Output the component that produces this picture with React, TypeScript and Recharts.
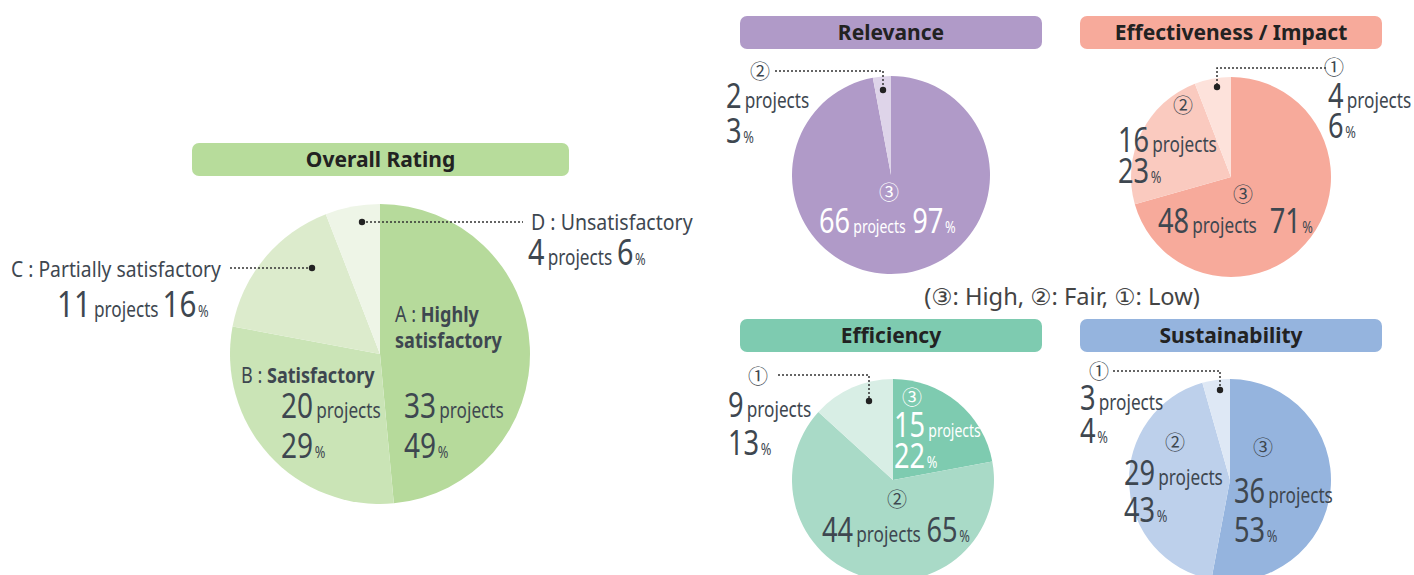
import React from 'react';
import { PieChart, Pie, Cell } from 'recharts';

// Overall rating (A..D)
const overallNames = ['A', 'B', 'C', 'D'];
const overallCounts = [33, 20, 11, 4];
const overallPercents = [49, 29, 16, 6];

// Criteria ratings, ordered clockwise from 12 o'clock
const relevanceNames = ['③', '②'];
const relevanceCounts = [66, 2];
const relevancePercents = [97, 3];

const effectivenessNames = ['③', '②', '①'];
const effectivenessCounts = [48, 16, 4];
const effectivenessPercents = [71, 23, 6];

const efficiencyNames = ['③', '②', '①'];
const efficiencyCounts = [15, 44, 9];
const efficiencyPercents = [22, 65, 13];

const sustainabilityNames = ['③', '②', '①'];
const sustainabilityCounts = [36, 29, 3];
const sustainabilityPercents = [53, 43, 4];

const COLORS = {
  overall: ['#b6da9b', '#cae4b6', '#dcebcc', '#eef5e7'],
  relevance: ['#b09ac8', '#ded4e9'],
  effectiveness: ['#f7aa9b', '#facabf', '#fde2db'],
  efficiency: ['#7ecbb0', '#a9dac7', '#d8eee5'],
  sustainability: ['#95b4de', '#bdd0eb', '#dee8f5'],
};

const TEXT = '#3e4750';
const FONT = '"Noto Sans", "DejaVu Sans", sans-serif';
const CJK = '"Noto Sans CJK JP", "Noto Sans", sans-serif';
const SQUEEZE = 0.8;

const toRows = (names: string[], counts: number[], percents: number[]) =>
  names.map((name, i) => ({ name, value: counts[i], percent: percents[i] }));

const overallData = toRows(overallNames, overallCounts, overallPercents);
const relevanceData = toRows(relevanceNames, relevanceCounts, relevancePercents);
const effectivenessData = toRows(effectivenessNames, effectivenessCounts, effectivenessPercents);
const efficiencyData = toRows(efficiencyNames, efficiencyCounts, efficiencyPercents);
const sustainabilityData = toRows(sustainabilityNames, sustainabilityCounts, sustainabilityPercents);

// condensed text: the source font is narrow, so squeeze horizontally
const Txt = ({ x, y, size = 21, k = 0.86, fill = TEXT, weight = 400, anchor = 'start', family = FONT, children }: any) => (
  <text
    transform={`translate(${x},${y}) scale(${k},1)`}
    fontSize={size}
    fontWeight={weight}
    fill={fill}
    textAnchor={anchor}
    fontFamily={family}
  >
    {children}
  </text>
);

// big number + "projects" (+ percent on same line or next line)
const Count = ({ x, y, n, p, fill = TEXT, split = 0, big = 34, small = 21.5, gap = 6 }: any) => (
  <g transform={`translate(${x},${y}) scale(${SQUEEZE},1)`} fill={fill} fontFamily={FONT}>
    <text x={0} y={0}>
      <tspan fontSize={big}>{n}</tspan>
      <tspan fontSize={small} dx={4}>projects</tspan>
      {!split && <tspan fontSize={big} dx={gap}>{p}</tspan>}
      {!split && <tspan fontSize={16} dx={2}>%</tspan>}
    </text>
    {split ? (
      <text x={0} y={split}>
        <tspan fontSize={big}>{p}</tspan>
        <tspan fontSize={16} dx={2}>%</tspan>
      </text>
    ) : null}
  </g>
);

const Header = ({ x, y, w, color, children }: any) => (
  <g>
    <rect x={x} y={y} width={w} height={33} rx={7} fill={color} />
    <text x={x + w / 2} y={y + 24} textAnchor="middle" fontFamily={FONT} fontWeight={700} fontSize={21} fill="#222">
      {children}
    </text>
  </g>
);

const Leader = ({ points, dot }: any) => (
  <g>
    <polyline points={points} fill="none" stroke="#333" strokeWidth={1.5} strokeDasharray="2 2" />
    <circle cx={dot[0]} cy={dot[1]} r={3.2} fill="#222" />
  </g>
);

const Mark = ({ x, y, c, fill = TEXT }: any) => (
  <text x={x} y={y} textAnchor="middle" fontFamily={CJK} fontSize={20} fill={fill}>
    {c}
  </text>
);

const slices = (data: any[], colors: string[]) =>
  data.map((d, i) => <Cell key={d.name + i} fill={colors[i]} stroke="none" />);

export default function App() {
  return (
    <div style={{ position: 'absolute', left: 0, top: 0, width: 1414, height: 575, background: '#fff', overflow: 'hidden' }}>
      <PieChart width={1414} height={575} margin={{ top: 0, right: 0, bottom: 0, left: 0 }}>
        <Pie data={overallData} dataKey="value" cx={380} cy={354} outerRadius={150} startAngle={90} endAngle={-270} isAnimationActive={false} stroke="none">
          {slices(overallData, COLORS.overall)}
        </Pie>
        <Pie data={relevanceData} dataKey="value" cx={891} cy={175} outerRadius={99} startAngle={90} endAngle={-270} isAnimationActive={false} stroke="none">
          {slices(relevanceData, COLORS.relevance)}
        </Pie>
        <Pie data={effectivenessData} dataKey="value" cx={1231} cy={177} outerRadius={100} startAngle={90} endAngle={-270} isAnimationActive={false} stroke="none">
          {slices(effectivenessData, COLORS.effectiveness)}
        </Pie>
        <Pie data={efficiencyData} dataKey="value" cx={893} cy={480} outerRadius={101} startAngle={90} endAngle={-270} isAnimationActive={false} stroke="none">
          {slices(efficiencyData, COLORS.efficiency)}
        </Pie>
        <Pie data={sustainabilityData} dataKey="value" cx={1230} cy={480} outerRadius={101} startAngle={90} endAngle={-270} isAnimationActive={false} stroke="none">
          {slices(sustainabilityData, COLORS.sustainability)}
        </Pie>
      </PieChart>

      <svg width={1414} height={575} style={{ position: 'absolute', left: 0, top: 0, pointerEvents: 'none' }}>
        <Header x={192} y={143} w={377} color="#b7dc9b">Overall Rating</Header>
        <Header x={740} y={16} w={302} color="#b09ac8">Relevance</Header>
        <Header x={1080} y={16} w={302} color="#f7aa9b">Effectiveness / Impact</Header>
        <Header x={740} y={319} w={302} color="#7ecbb0">Efficiency</Header>
        <Header x={1080} y={319} w={302} color="#95b4de">Sustainability</Header>

        {/* Overall */}
        <Leader points="230,268 312,268" dot={[312, 268]} />
        <Leader points="362,222 523,222" dot={[362, 222]} />
        <Txt x={11} y={277} k={0.92}>C : Partially satisfactory</Txt>
        <Count x={57} y={317} n={overallCounts[2]} p={overallPercents[2]} big={37} gap={5} />
        <Txt x={531} y={230} k={0.93}>D : Unsatisfactory</Txt>
        <Count x={528} y={265} n={overallCounts[3]} p={overallPercents[3]} big={36} gap={6} />
        <Txt x={395} y={322}>
          A : <tspan fontWeight={700}>Highly</tspan>
        </Txt>
        <Txt x={395} y={348} weight={700}>satisfactory</Txt>
        <Txt x={241} y={383}>
          B : <tspan fontWeight={700}>Satisfactory</tspan>
        </Txt>
        <Count x={281} y={418} n={overallCounts[1]} p={overallPercents[1]} split={40} big={35} />
        <Count x={404} y={418} n={overallCounts[0]} p={overallPercents[0]} split={40} big={35} />

        {/* Relevance */}
        <Leader points="775,71 883,71 883,90" dot={[883, 90]} />
        <Mark x={760} y={79} c="②" />
        <Count x={726} y={108} n={relevanceCounts[1]} p={relevancePercents[1]} split={35} />
        <Mark x={889} y={200} c="③" fill="#fff" />
        <Count x={819} y={233} n={relevanceCounts[0]} p={relevancePercents[0]} fill="#fff" small={17.5} gap={8} />

        {/* Effectiveness */}
        <Leader points="1326,68 1217,68 1217,87" dot={[1217, 87]} />
        <Mark x={1334} y={75} c="①" />
        <Count x={1328} y={108} n={effectivenessCounts[2]} p={effectivenessPercents[2]} split={30} />
        <Mark x={1183} y={113} c="②" />
        <Count x={1118} y={152} n={effectivenessCounts[1]} p={effectivenessPercents[1]} split={31} />
        <Mark x={1243} y={202} c="③" />
        <Count x={1158} y={233} n={effectivenessCounts[0]} p={effectivenessPercents[0]} gap={16} />

        {/* Legend */}
        <Txt x={1062} y={305} size={23} k={1.03} anchor="middle" fill="#444">
          (③: High, ②: Fair, ①: Low)
        </Txt>

        {/* Efficiency */}
        <Leader points="778,375 869,375 869,401" dot={[869, 401]} />
        <Mark x={758} y={384} c="①" />
        <Count x={728} y={417} n={efficiencyCounts[2]} p={efficiencyPercents[2]} split={38} />
        <Mark x={912} y={405} c="③" fill="#fff" />
        <Count x={894} y={437} n={efficiencyCounts[0]} p={efficiencyPercents[0]} fill="#fff" split={31} small={17.5} />
        <Mark x={897} y={507} c="②" />
        <Count x={822} y={542} n={efficiencyCounts[1]} p={efficiencyPercents[1]} gap={7} />

        {/* Sustainability */}
        <Leader points="1113,371 1220,371 1220,390" dot={[1220, 390]} />
        <Mark x={1099} y={379} c="①" />
        <Count x={1080} y={410} n={sustainabilityCounts[2]} p={sustainabilityPercents[2]} split={33} />
        <Mark x={1175} y={450} c="②" />
        <Count x={1124} y={485} n={sustainabilityCounts[1]} p={sustainabilityPercents[1]} split={37} />
        <Mark x={1263} y={455} c="③" />
        <Count x={1234} y={503} n={sustainabilityCounts[0]} p={sustainabilityPercents[0]} split={39} />
      </svg>
    </div>
  );
}
